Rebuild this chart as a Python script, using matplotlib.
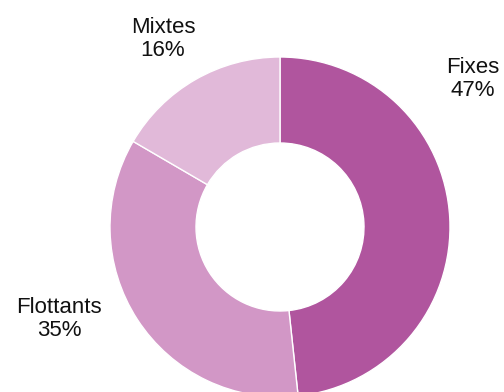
import matplotlib.pyplot as plt

plt.rcParams['font.family'] = ['Liberation Sans', 'DejaVu Sans']

# shares measured off the ring, labels as printed
categories = ["Fixes", "Flottants", "Mixtes"]
shares = [48.3, 35.1, 16.6]
pct_labels = ["47%", "35%", "16%"]
colors = ["#B0559E", "#D297C6", "#E1B9D9"]

fig = plt.figure(figsize=(5.04, 3.92), dpi=100)
ax = fig.add_axes([0, 0, 1, 1])

ax.pie(shares, colors=colors, startangle=90, counterclock=False,
       center=(280, 165), radius=170,
       wedgeprops=dict(width=86, edgecolor="white", linewidth=1))

ax.set_xlim(0, 504)
ax.set_ylim(0, 392)
ax.set_aspect("equal")
ax.axis("off")

label_pos = [(473, 313), (59, 73), (163, 353)]
for name, pct, (x, y) in zip(categories, pct_labels, label_pos):
    ax.text(x, y, name + "\n" + pct, ha="center", va="center",
            fontsize=16, linespacing=1.12, color="#111111")

fig.savefig("out.png", dpi=100)
